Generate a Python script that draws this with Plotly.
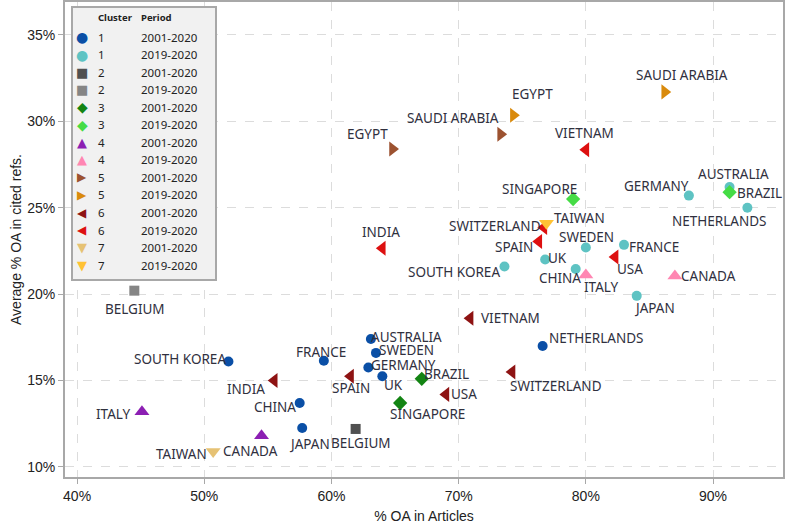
import plotly.graph_objects as go

# ---------------- data (percent values) ----------------
c1_2001_countries = ["AUSTRALIA", "SWEDEN", "GERMANY", "UK", "FRANCE", "SOUTH KOREA", "CHINA", "JAPAN", "NETHERLANDS"]
c1_2001_x = [63.1, 63.5, 62.9, 64.0, 59.4, 51.9, 57.5, 57.7, 76.6]
c1_2001_y = [17.4, 16.6, 15.75, 15.25, 16.15, 16.1, 13.7, 12.25, 17.0]

c1_2019_countries = ["GERMANY", "AUSTRALIA", "NETHERLANDS", "SWEDEN", "FRANCE", "UK", "CHINA", "SOUTH KOREA", "JAPAN"]
c1_2019_x = [88.1, 91.3, 92.7, 80.0, 83.0, 76.8, 79.2, 73.6, 84.0]
c1_2019_y = [25.7, 26.2, 25.0, 22.7, 22.85, 22.0, 21.45, 21.6, 19.9]

c2_2001_countries = ["BELGIUM"]
c2_2001_x = [61.9]
c2_2001_y = [12.2]

c2_2019_countries = ["BELGIUM"]
c2_2019_x = [44.5]
c2_2019_y = [20.2]

c3_2001_countries = ["BRAZIL", "SINGAPORE"]
c3_2001_x = [67.1, 65.4]
c3_2001_y = [15.1, 13.7]

c3_2019_countries = ["SINGAPORE", "BRAZIL"]
c3_2019_x = [79.0, 91.3]
c3_2019_y = [25.5, 25.9]

c4_2001_countries = ["ITALY", "CANADA"]
c4_2001_x = [45.1, 54.5]
c4_2001_y = [13.2, 11.8]

c4_2019_countries = ["ITALY", "CANADA"]
c4_2019_x = [80.0, 87.0]
c4_2019_y = [21.1, 21.05]

c5_2001_countries = ["EGYPT", "SAUDI ARABIA"]
c5_2001_x = [64.8, 73.3]
c5_2001_y = [28.4, 29.25]

c5_2019_countries = ["EGYPT", "SAUDI ARABIA"]
c5_2019_x = [74.3, 86.2]
c5_2019_y = [30.35, 31.7]

c6_2001_countries = ["VIETNAM", "INDIA", "SPAIN", "SWITZERLAND", "USA"]
c6_2001_x = [70.9, 55.5, 61.5, 74.2, 69.0]
c6_2001_y = [18.6, 15.0, 15.25, 15.5, 14.2]

c6_2019_countries = ["VIETNAM", "INDIA", "SWITZERLAND", "SPAIN", "USA"]
c6_2019_x = [80.0, 64.0, 76.7, 76.3, 82.3]
c6_2019_y = [28.35, 22.65, 23.85, 23.05, 22.15]

c7_2001_countries = ["TAIWAN"]
c7_2001_x = [50.7]
c7_2001_y = [10.9]

c7_2019_countries = ["TAIWAN"]
c7_2019_x = [76.9]
c7_2019_y = [24.1]

clusters = ["1", "1", "2", "2", "3", "3", "4", "4", "5", "5", "6", "6", "7", "7"]
periods = ["2001-2020", "2019-2020"] * 7

x_ticks = [40, 50, 60, 70, 80, 90]
x_tick_labels = ["40%", "50%", "60%", "70%", "80%", "90%"]
y_ticks = [10, 15, 20, 25, 30, 35]
y_tick_labels = ["10%", "15%", "20%", "25%", "30%", "35%"]

# ---------------- styles ----------------
series = [
    (c1_2001_countries, c1_2001_x, c1_2001_y),
    (c1_2019_countries, c1_2019_x, c1_2019_y),
    (c2_2001_countries, c2_2001_x, c2_2001_y),
    (c2_2019_countries, c2_2019_x, c2_2019_y),
    (c3_2001_countries, c3_2001_x, c3_2001_y),
    (c3_2019_countries, c3_2019_x, c3_2019_y),
    (c4_2001_countries, c4_2001_x, c4_2001_y),
    (c4_2019_countries, c4_2019_x, c4_2019_y),
    (c5_2001_countries, c5_2001_x, c5_2001_y),
    (c5_2019_countries, c5_2019_x, c5_2019_y),
    (c6_2001_countries, c6_2001_x, c6_2001_y),
    (c6_2019_countries, c6_2019_x, c6_2019_y),
    (c7_2001_countries, c7_2001_x, c7_2001_y),
    (c7_2019_countries, c7_2019_x, c7_2019_y),
]

colors = ["#0a4fa6", "#5ec3c3", "#505050", "#858585", "#138413", "#45dc45",
          "#8c1fb3", "#ff86b2", "#9c5230", "#d98a0c", "#8e1313", "#dd1010",
          "#e6c274", "#ffc234"]
symbols = ["circle", "circle", "square", "square", "diamond", "diamond",
           "triangle-up", "triangle-up", "triangle-right", "triangle-right",
           "triangle-left", "triangle-left", "triangle-down", "triangle-down"]
glyphs = ["●", "●", "■", "■", "◆", "◆", "▲", "▲", "▶", "▶", "◀", "◀", "▼", "▼"]
glyph_sizes = [14, 14, 13, 13, 14, 14, 13, 13, 12, 12, 12, 12, 13, 13]
sizes = [10, 10, 10, 10, 11, 11, 13, 13, 13, 13, 13, 13, 13, 13]

# label offsets from the marker, in screen pixels (label centre - marker centre)
label_dx = [
    [36, 31, 35, 11, -3, -48, -25, 7, 53],
    [-32, 4, -28, 1, 30, 12, -16, -50, 18],
    [5], [1],
    [25, 27], [-34, 30],
    [-29, -11], [15, 34],
    [-25, -48], [19, 17],
    [40, -28, 0, 44, 18],
    [-1, -1, -49, -25, 15],
    [-32], [33],
]
label_dy = [
    [-2, -3, -3, 9, -9, -3, 4, 16, -8],
    [-10, -13, 13, -10, 2, -2, 9, 6, 12],
    [14], [18],
    [-5, 11], [-10, 1],
    [2, 15], [12, 0],
    [-15, -16], [-21, -17],
    [0, 8, 12, 14, 0],
    [-17, -16, -2, 6, 12],
    [3], [-5],
]

fig = go.Figure()
for i, (names, xs, ys) in enumerate(series):
    fig.add_trace(go.Scatter(
        x=xs, y=ys, mode="markers",
        marker=dict(symbol=symbols[i], color=colors[i], size=sizes[i], line=dict(width=0)),
        name=clusters[i] + " " + periods[i],
        cliponaxis=False, showlegend=False,
    ))
    for j, name in enumerate(names):
        fig.add_annotation(
            x=xs[j], y=ys[j], xref="x", yref="y", text=name, showarrow=False,
            xanchor="center", yanchor="middle",
            xshift=label_dx[i][j], yshift=-label_dy[i][j],
            font=dict(family="Noto Sans", size=13.5, color="#30303e"),
        )

# ---------------- legend box (drawn in plot-area pixel terms) ----------------
PL, PR, PT, PB = 65, 783, 2, 477
def px_x(px):
    return (px - PL) / (PR - PL)
def px_y(py):
    return (PB - py) / (PB - PT)

fig.add_shape(type="rect", xref="paper", yref="paper",
              x0=px_x(72), x1=px_x(216), y0=px_y(280), y1=px_y(7),
              fillcolor="#f1f1f1", line=dict(color="#a8a8a8", width=2), layer="above")
fig.add_annotation(x=px_x(96), y=px_y(18), xref="paper", yref="paper", xanchor="left",
                   yanchor="middle", showarrow=False, text="<b>Cluster</b>",
                   font=dict(family="Noto Sans", size=9.5, color="#222222"))
fig.add_annotation(x=px_x(139), y=px_y(18), xref="paper", yref="paper", xanchor="left",
                   yanchor="middle", showarrow=False, text="<b>Period</b>",
                   font=dict(family="Noto Sans", size=9.5, color="#222222"))
for i in range(len(clusters)):
    yy = px_y(37 + i * 17.55)
    fig.add_annotation(x=px_x(82), y=yy, xref="paper", yref="paper", xanchor="center",
                       yanchor="middle", showarrow=False, text=glyphs[i],
                       font=dict(family="DejaVu Sans", size=glyph_sizes[i], color=colors[i]))
    fig.add_annotation(x=px_x(96), y=yy, xref="paper", yref="paper", xanchor="left",
                       yanchor="middle", showarrow=False, text=clusters[i],
                       font=dict(family="Noto Sans", size=11.5, color="#222222"))
    fig.add_annotation(x=px_x(139), y=yy, xref="paper", yref="paper", xanchor="left",
                       yanchor="middle", showarrow=False, text=periods[i],
                       font=dict(family="Noto Sans", size=11.5, color="#222222"))

fig.update_layout(
    width=786, height=524,
    margin=dict(l=PL, r=786 - PR, t=PT, b=524 - PB, autoexpand=False),
    paper_bgcolor="white", plot_bgcolor="white",
    font=dict(family="Liberation Sans", size=14, color="#222222"),
    showlegend=False,
    xaxis=dict(
        range=[39.05, 95.5], tickmode="array", tickvals=x_ticks, ticktext=x_tick_labels,
        showgrid=True, gridcolor="#dcdcdc", griddash="dash", gridwidth=1,
        zeroline=False, showline=True, linecolor="#a8a8a8", linewidth=2, mirror=True,
        ticks="outside", ticklen=5, tickcolor="#a8a8a8", automargin=False,
        title=dict(text="% OA in Articles", font=dict(size=14)),
    ),
    yaxis=dict(
        range=[9.42, 36.9], tickmode="array", tickvals=y_ticks, ticktext=y_tick_labels,
        showgrid=True, gridcolor="#dcdcdc", griddash="dash", gridwidth=1,
        zeroline=False, showline=True, linecolor="#a8a8a8", linewidth=2, mirror=True,
        ticks="outside", ticklen=5, tickcolor="#a8a8a8", automargin=False,
        title=dict(text="Average % OA in cited refs.", font=dict(size=14), standoff=2),
    ),
)

fig.write_html("out.html", config={"displayModeBar": False},
               post_script="document.body.style.margin='0';")
